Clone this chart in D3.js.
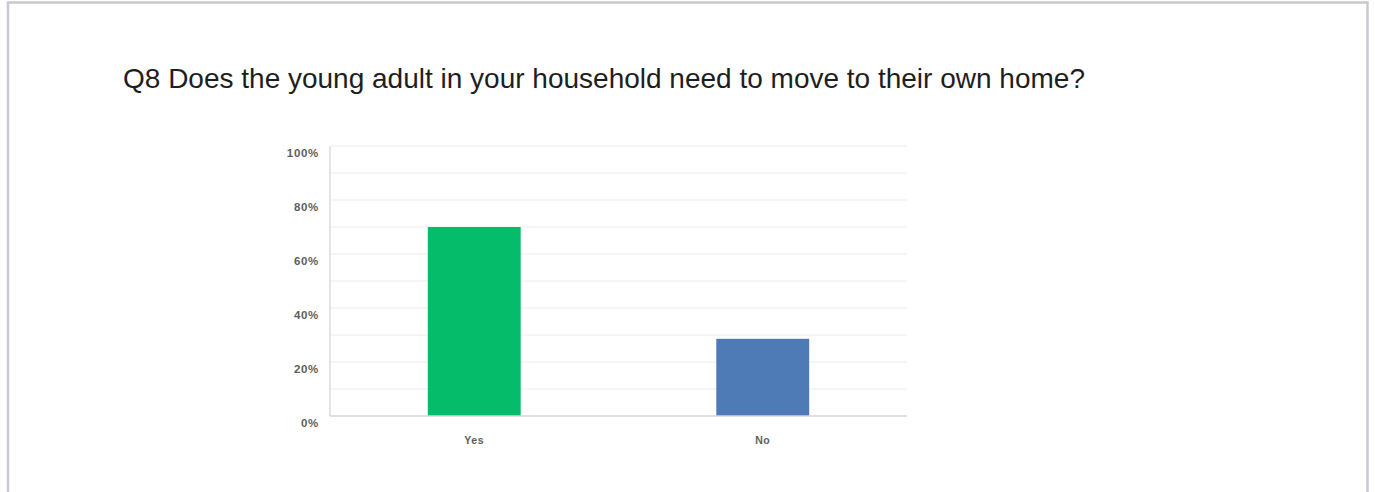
<!DOCTYPE html>
<html>
<head>
<meta charset="utf-8">
<script src="https://cdn.jsdelivr.net/npm/d3@7"></script>
<style>
  html, body { margin: 0; padding: 0; background: #fff; }
  svg { display: block; }
</style>
</head>
<body>
<svg id="chart" width="1375" height="492"></svg>
<script>
// Survey question and responses
const title = "Q8 Does the young adult in your household need to move to their own home?";
const categories = ["Yes", "No"];
const values = [70.0, 28.6];
const barColors = ["#05bc6a", "#4e7bb5"];
const tickValues = [0, 20, 40, 60, 80, 100];
const gridValues = [10, 20, 30, 40, 50, 60, 70, 80, 90, 100];

const svg = d3.select("#chart");

// Card frame
svg.append("path")
  .attr("d", "M8,500 V2.5 H1367.5 V500")
  .attr("fill", "none")
  .attr("stroke", "#c9c9d2")
  .attr("stroke-width", 2.5);

svg.append("text")
  .attr("x", 123)
  .attr("y", 88)
  .attr("font-family", "Liberation Sans, Arial, sans-serif")
  .attr("font-size", 28)
  .attr("fill", "#1e1e1e")
  .text(title);

const plot = { left: 330, right: 907, top: 146, bottom: 416 };

const x = d3.scaleBand()
  .domain(categories)
  .range([plot.left, plot.right])
  .padding(0);

const y = d3.scaleLinear()
  .domain([0, 100])
  .range([plot.bottom, plot.top]);

const barWidth = x.bandwidth() * 0.322;

// Horizontal gridlines
svg.append("g")
  .selectAll("line")
  .data(gridValues)
  .join("line")
  .attr("x1", plot.left)
  .attr("x2", plot.right)
  .attr("y1", d => y(d))
  .attr("y2", d => y(d))
  .attr("stroke", "#ececec")
  .attr("stroke-width", 1);

// Bars
svg.append("g")
  .selectAll("rect")
  .data(categories)
  .join("rect")
  .attr("x", d => x(d) + (x.bandwidth() - barWidth) / 2)
  .attr("width", barWidth)
  .attr("y", (d, i) => y(values[i]))
  .attr("height", (d, i) => y(0) - y(values[i]))
  .attr("fill", (d, i) => barColors[i]);

// Axis lines
svg.append("line")
  .attr("x1", plot.left).attr("x2", plot.left)
  .attr("y1", plot.top).attr("y2", plot.bottom)
  .attr("stroke", "#dcdcdc").attr("stroke-width", 1.5);
svg.append("line")
  .attr("x1", plot.left).attr("x2", plot.right)
  .attr("y1", plot.bottom).attr("y2", plot.bottom)
  .attr("stroke", "#d6d6d6").attr("stroke-width", 1.5);

// Y tick labels (sit just below their gridline)
const yAxis = d3.axisLeft(y)
  .tickValues(tickValues)
  .tickFormat(d => d + "%")
  .tickSize(0)
  .tickPadding(11);
const gy = svg.append("g")
  .attr("transform", `translate(${plot.left},0)`)
  .call(yAxis);
gy.select(".domain").remove();
gy.selectAll("text")
  .attr("dy", "0.95em")
  .attr("font-family", "Liberation Sans, Arial, sans-serif")
  .attr("font-size", 11.5)
  .attr("font-weight", "bold")
  .attr("letter-spacing", 0.7)
  .attr("fill", "#5e5e5e");

// X category labels
const xAxis = d3.axisBottom(x).tickSize(0).tickPadding(21);
const gx = svg.append("g")
  .attr("transform", `translate(0,${plot.bottom})`)
  .call(xAxis);
gx.select(".domain").remove();
gx.selectAll("text")
  .attr("font-family", "Liberation Sans, Arial, sans-serif")
  .attr("font-size", 10.5)
  .attr("font-weight", "bold")
  .attr("letter-spacing", 0.6)
  .attr("fill", "#5e5e5e");
</script>
</body>
</html>
